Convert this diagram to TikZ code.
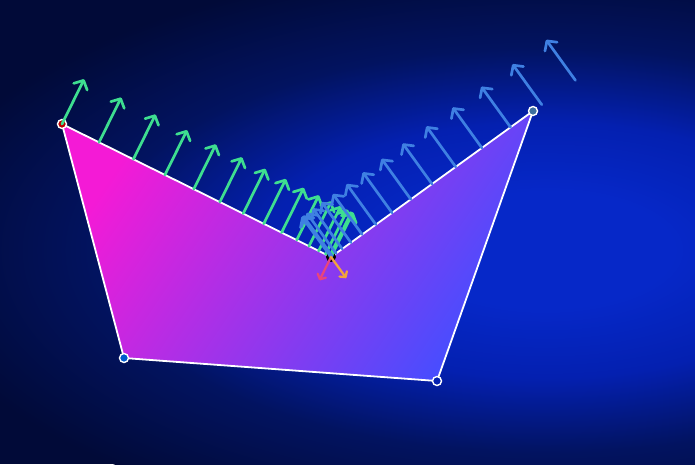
\documentclass[tikz,border=0pt]{standalone}
\usepackage{xcolor,tikz}
\usetikzlibrary{arrows.meta,calc}
\definecolor{bgmid}{HTML}{0628C8}
\definecolor{bgdim}{HTML}{0420B0}
\definecolor{bgdark}{HTML}{021360}
\definecolor{bgout}{HTML}{010A38}
\definecolor{pmag}{HTML}{F41AD6}
\definecolor{pblu}{HTML}{454EFF}
\definecolor{nrmg}{HTML}{3EDE90}
\definecolor{nrmb}{HTML}{3F80E2}
\definecolor{inpk}{HTML}{E8457C}
\definecolor{inor}{HTML}{F0A33E}
\pgfdeclareradialshading{glow}{\pgfpoint{0bp}{0bp}}{color(0bp)=(bgmid); color(5bp)=(bgmid); color(11bp)=(bgdim); color(17.5bp)=(bgdark); color(25bp)=(bgout); color(50bp)=(bgout)}
\tikzset{nv/.style={-{Straight Barb[length=7pt,width=15pt,round]},line width=2.7pt,line cap=round},
 iv/.style={-{Straight Barb[length=4pt,width=9pt,round]},line width=2.3pt,line cap=round},
 vtx/.style={draw=white,line width=1.4pt},
 rim/.style={draw=white,line width=1.8pt,line join=round}}
\begin{document}
\begin{tikzpicture}[x=1pt,y=-1pt]
\useasboundingbox(0,0)rectangle(695,464);
\begin{scope}
\clip(0,0)rectangle(695,464);
\fill[bgout](0,0)rectangle(695,464);
\shade[shading=glow](545,250)ellipse(640 and 290);
\end{scope}
\coordinate(A) at(62,124);
\coordinate(B) at(124,358);
\coordinate(C) at(437,381);
\coordinate(D) at(533,111);
\coordinate(E) at(331,257);
\shade[top color=pmag,bottom color=pblu,shading angle=56](A)--(B)--(C)--(D)--(E)--cycle;
\draw[rim](A)--(B)--(C)--(D)--(E)--cycle;
\filldraw[vtx,fill=red!75!black](A)circle(4.5);
\filldraw[vtx,fill=blue!55!cyan!80!black](B)circle(4.5);
\filldraw[vtx,fill=bgdim](C)circle(4.5);
\filldraw[vtx,fill=cyan!60!blue!70!black](D)circle(4.5);
\fill[black](E)circle(5);
\coordinate(nL) at($(E)!50pt!-90:(A)$);
\coordinate(nR) at($(E)!50pt!90:(D)$);
\foreach \k in {0,...,14}{
 \pgfmathsetmacro\fr{(1-\k/14)^2}
 \coordinate(gl) at($(E)!\fr!(A)$);
 \draw[nv,nrmg](gl)--($(gl)+(nL)-(E)$);
}
\foreach \k in {0,...,14}{
 \pgfmathsetmacro\fr{(1-\k/14)^2}
 \coordinate(bl) at($(E)!1.21*\fr!(D)$);
 \draw[nv,nrmb](bl)--($(bl)+(nR)-(E)$);
}
\draw[iv,inpk](E)--($(E)!26pt!90:(A)$);
\draw[iv,inor](E)--($(E)!26pt!-90:(D)$);
\end{tikzpicture}
\end{document}
